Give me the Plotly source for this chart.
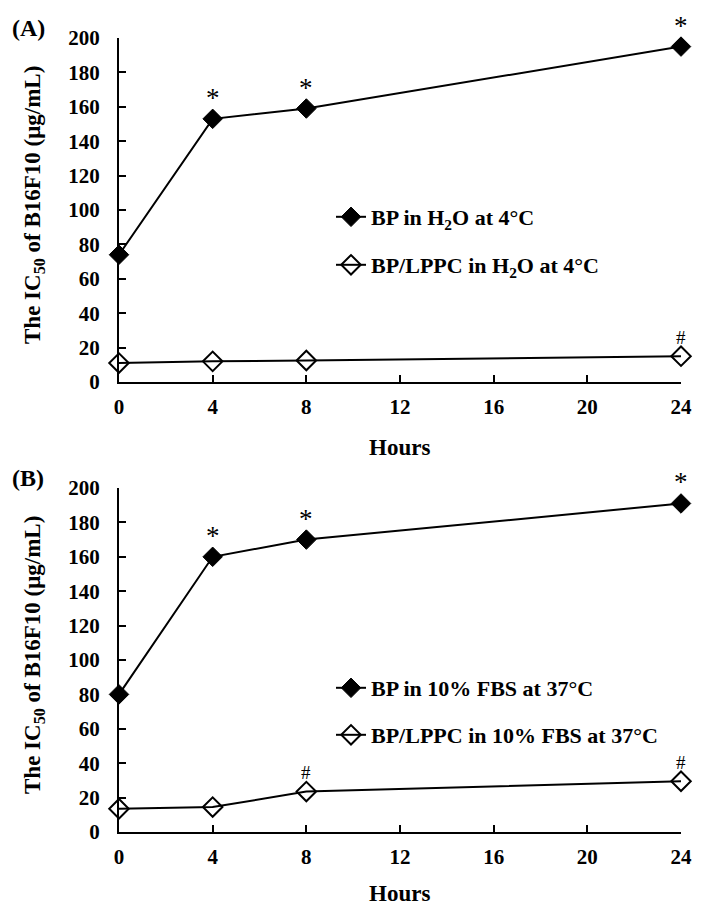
import plotly.graph_objects as go

hours = [0, 4, 8, 24]
x_ticks = [0, 4, 8, 12, 16, 20, 24]
y_ticks = [0, 20, 40, 60, 80, 100, 120, 140, 160, 180, 200]

a_bp = [74, 153, 159, 195]
a_lppc = [11, 12, 12.5, 15]
b_bp = [80, 160, 170, 191]
b_lppc = [13.5, 14.5, 23.5, 29.5]

a_bp_name = "BP in H<sub>2</sub>O at 4°C"
a_lppc_name = "BP/LPPC in H<sub>2</sub>O at 4°C"
b_bp_name = "BP in 10% FBS at 37°C"
b_lppc_name = "BP/LPPC in 10% FBS at 37°C"

a_star = [4, 8, 24]
a_hash = [24]
b_star = [4, 8, 24]
b_hash = [8, 24]

W, H = 704, 909
OFF = 8  # page body margin
FONT = "Liberation Serif"

def px(xp):
    return (xp - OFF) / W

def py(yp):
    return 1 - (yp - OFF) / H

fig = go.Figure()

def add_pair(bp, lppc, bp_name, lppc_name, xa, ya, lg1, lg2):
    fig.add_trace(go.Scatter(
        x=hours, y=bp, mode="lines+markers", name=bp_name,
        line=dict(color="black", width=2),
        marker=dict(symbol="diamond", size=15, color="black",
                    line=dict(color="black", width=1)),
        xaxis=xa, yaxis=ya, legend=lg1, cliponaxis=False, showlegend=True))
    fig.add_trace(go.Scatter(
        x=hours, y=lppc, mode="lines+markers", name=lppc_name,
        line=dict(color="black", width=2),
        marker=dict(symbol="diamond-open", size=15, color="black",
                    line=dict(color="black", width=2)),
        xaxis=xa, yaxis=ya, legend=lg2, cliponaxis=False, showlegend=True))

add_pair(a_bp, a_lppc, a_bp_name, a_lppc_name, "x", "y", "legend", "legend2")
add_pair(b_bp, b_lppc, b_bp_name, b_lppc_name, "x2", "y2", "legend3", "legend4")

axis_common = dict(showline=True, linecolor="black", linewidth=2,
                   ticks="inside", ticklen=7, tickwidth=2, tickcolor="black",
                   showgrid=False, zeroline=False, automargin=False,
                   tickfont=dict(family=FONT, size=21, color="black", weight="bold"))

xdom = [px(119), px(681)]
fig.update_layout(
    width=W, height=H,
    margin=dict(l=0, r=0, t=0, b=0, autoexpand=False),
    showlegend=True,
    plot_bgcolor="white", paper_bgcolor="white",
    xaxis=dict(domain=xdom, range=[0, 24], tickvals=x_ticks, anchor="y",
               ticklabelstandoff=5, **axis_common),
    yaxis=dict(domain=[py(382), py(38)], range=[0, 200], tickvals=y_ticks,
               anchor="x", ticklabelstandoff=13, **axis_common),
    xaxis2=dict(domain=xdom, range=[0, 24], tickvals=x_ticks, anchor="y2",
                ticklabelstandoff=5, **axis_common),
    yaxis2=dict(domain=[py(832), py(488)], range=[0, 200], tickvals=y_ticks,
                anchor="x2", ticklabelstandoff=13, **axis_common),
)

leg_font = dict(family=FONT, size=22, color="black", weight="bold")
for name, yp in [("legend", 217), ("legend2", 265), ("legend3", 688), ("legend4", 735)]:
    fig.update_layout({name: dict(x=px(331), y=py(yp), xanchor="left", yanchor="middle",
                                  font=leg_font, bgcolor="rgba(0,0,0,0)",
                                  itemwidth=30)})

ann = []
def mark_ann(xs, vals, text, size, xa, ya, shift):
    for xv in xs:
        yv = vals[hours.index(xv)]
        ann.append(dict(x=xv, y=yv, xref=xa, yref=ya, text=text, showarrow=False,
                        xanchor="center", yanchor="middle",
                        yshift=shift, font=dict(family=FONT, size=size, color="black")))

mark_ann(a_star, a_bp, "*", 27, "x", "y", 21)
mark_ann(a_hash, a_lppc, "#", 19, "x", "y", 19)
mark_ann(b_star, b_bp, "*", 27, "x2", "y2", 21)
mark_ann(b_hash, b_lppc, "#", 19, "x2", "y2", 19)

title_font = dict(family=FONT, size=23, color="black", weight="bold")
ytitle = "The IC<sub>50</sub> of B16F10 (μg/mL)"
for label, ylab, yt, yh in [("(A)", 28, 205, 447), ("(B)", 478, 655, 893)]:
    ann.append(dict(x=px(28), y=py(ylab), xref="paper", yref="paper", text=label,
                    xanchor="center", yanchor="middle", showarrow=False,
                    font=dict(family=FONT, size=24, color="black", weight="bold")))
    ann.append(dict(x=px(34), y=py(yt), xref="paper", yref="paper", text=ytitle,
                    xanchor="center", yanchor="middle",
                    textangle=-90, showarrow=False, font=title_font))
    ann.append(dict(x=px(400), y=py(yh), xref="paper", yref="paper", text="Hours",
                    xanchor="center", yanchor="middle",
                    showarrow=False, font=title_font))

fig.update_layout(annotations=ann)
fig.write_html("out.html")
